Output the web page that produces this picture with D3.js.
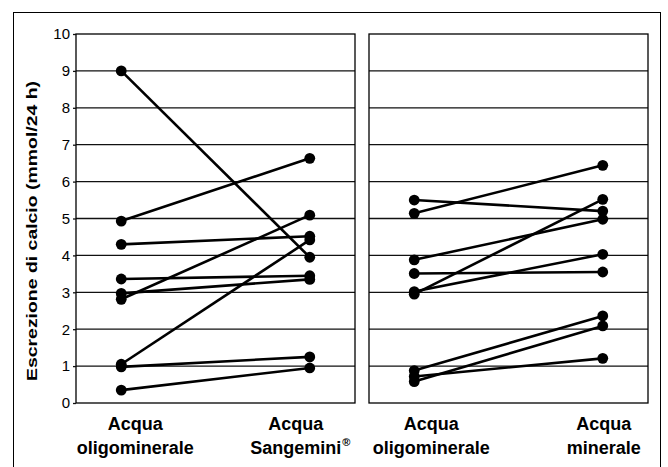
<!DOCTYPE html>
<html>
<head>
<meta charset="utf-8">
<script src="https://cdn.jsdelivr.net/npm/d3@7"></script>
<style>
body { margin: 0; background: #fff; }
svg { display: block; font-family: "Liberation Sans", Arial, sans-serif; }
</style>
</head>
<body>
<div id="chart"></div>
<script>
// data
var yTicks = [0, 1, 2, 3, 4, 5, 6, 7, 8, 9, 10]
var yTitle = "Escrezione di calcio (mmol/24 h)"
var leftCats = ["oligo", "sangemini"]
var rightCats = ["oligo", "minerale"]
var leftLabels = [["Acqua", "oligominerale"], ["Acqua", "Sangemini"]]
var rightLabels = [["Acqua", "oligominerale"], ["Acqua", "minerale"]]
var leftBefore = [9.0, 4.93, 4.30, 3.36, 2.97, 2.81, 1.05, 0.98, 0.35]
var leftAfter  = [3.95, 6.63, 4.52, 3.45, 3.35, 5.09, 4.42, 1.25, 0.95]
var rightBefore = [5.50, 5.14, 3.88, 3.51, 3.02, 2.95, 0.88, 0.58, 0.72]
var rightAfter  = [5.20, 6.44, 4.98, 3.55, 4.03, 5.52, 2.36, 2.09, 1.21]

var W = 668, H = 467
var svg = d3.select("#chart").append("svg")
    .attr("width", W).attr("height", H)

// outer frame (bottom runs off the page)
svg.append("rect")
    .attr("x", 13.5).attr("y", 12.5)
    .attr("width", 647).attr("height", 480)
    .attr("fill", "none").attr("stroke", "#000").attr("stroke-width", 1)

var plotTop = 34, plotBottom = 403
var y = d3.scaleLinear().domain([0, 10]).range([plotBottom, plotTop])

// labels sit a bit off the dot columns in the original
var panels = [
    {x0: 76, x1: 355, cats: leftCats, before: leftBefore, after: leftAfter,
     labels: leftLabels, labelDx: [14, -14]},
    {x0: 369, x1: 648, cats: rightCats, before: rightBefore, after: rightAfter,
     labels: rightLabels, labelDx: [17, 1]}
]

panels.forEach(function(p, pi) {
    var x = d3.scalePoint().domain(p.cats).range([p.x0, p.x1]).padding(0.24)
    var g = svg.append("g")

    // grid lines
    g.selectAll(".grid").data(yTicks.filter(function(d) { return d > 0 && d < 10 }))
        .enter().append("line")
        .attr("x1", p.x0).attr("x2", p.x1)
        .attr("y1", function(d) { return y(d) }).attr("y2", function(d) { return y(d) })
        .attr("stroke", "#111").attr("stroke-width", 1.3)

    g.append("rect")
        .attr("x", p.x0).attr("y", plotTop)
        .attr("width", p.x1 - p.x0).attr("height", plotBottom - plotTop)
        .attr("fill", "none").attr("stroke", "#000").attr("stroke-width", 1.3)

    if (pi == 0) {
        var axis = d3.axisLeft(y).tickValues(yTicks).tickSize(3).tickPadding(3)
        var ag = g.append("g").attr("transform", "translate(" + p.x0 + ",0)").call(axis)
        ag.select(".domain").remove()
        ag.selectAll("text").style("font-size", "15px").attr("fill", "#000")
            .style("font-family", "Liberation Sans, Arial, sans-serif")
        ag.selectAll("line").attr("stroke", "#111").attr("stroke-width", 1.3)
    }

    var pairs = p.before.map(function(b, i) { return [b, p.after[i]] })

    g.selectAll(".pair").data(pairs).enter().append("line")
        .attr("x1", x(p.cats[0])).attr("x2", x(p.cats[1]))
        .attr("y1", function(d) { return y(d[0]) })
        .attr("y2", function(d) { return y(d[1]) })
        .attr("stroke", "#000").attr("stroke-width", 2.6)

    pairs.forEach(function(d) {
        d.forEach(function(v, k) {
            g.append("circle")
                .attr("cx", x(p.cats[k])).attr("cy", y(v))
                .attr("r", 5.4).attr("fill", "#000")
        })
    })

    // category labels
    p.labels.forEach(function(lab, k) {
        var lx = x(p.cats[k]) + p.labelDx[k]
        var t = g.append("text")
            .attr("x", lx).attr("y", 430)
            .attr("text-anchor", "middle")
            .style("font-size", "18px").style("font-weight", "bold")
        t.append("tspan").attr("x", lx).text(lab[0])
        if (lab[1] == "Sangemini") {
            // keep the word centred, trademark sign hangs off the end
            var t2 = g.append("text")
                .attr("x", lx).attr("y", 454)
                .attr("text-anchor", "middle")
                .style("font-size", "18px").style("font-weight", "bold")
                .text(lab[1])
            var bw = t2.node().getComputedTextLength()
            g.append("text")
                .attr("x", lx + bw / 2 + 1).attr("y", 446)
                .style("font-size", "11px").style("font-weight", "bold")
                .text("®")
        } else {
            t.append("tspan").attr("x", lx).attr("dy", 24).text(lab[1])
        }
    })
})

svg.append("text")
    .attr("transform", "translate(37," + 231 + ") rotate(-90)")
    .attr("text-anchor", "middle")
    .attr("textLength", 300).attr("lengthAdjust", "spacingAndGlyphs")
    .style("font-size", "14px").style("font-weight", "bold")
    .text(yTitle)
</script>
</body>
</html>
